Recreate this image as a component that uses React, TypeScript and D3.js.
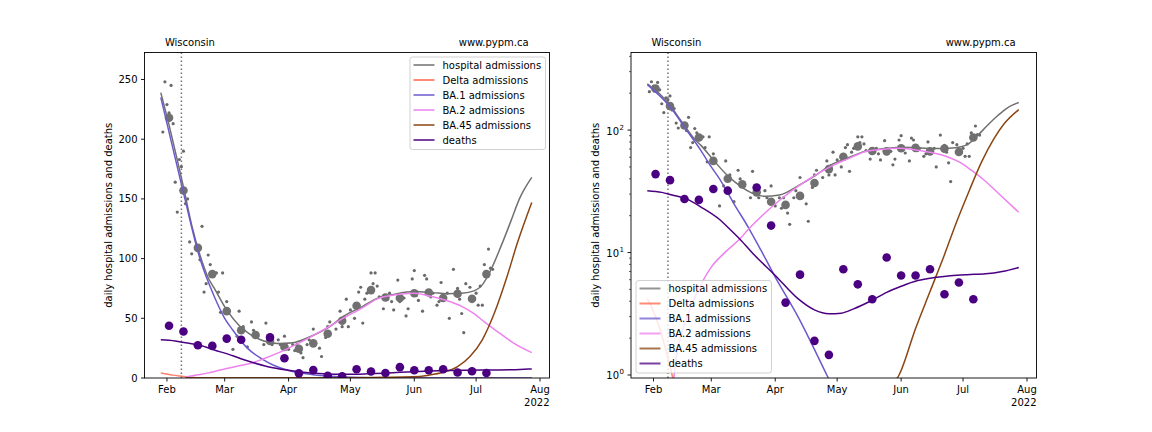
import React from "react";
import * as d3 from "d3";

// ---- data (days since 2022-02-01) ----
const dailyDay = [-2, -1, 0, 1, 2, 3, 4, 5, 6, 7, 8, 9, 10, 11, 12, 14, 16, 17, 18, 19, 20, 21, 23, 24, 25, 26, 27, 29, 30, 32, 34, 35, 37, 39, 41, 42, 44, 47, 48, 49, 51, 54, 55, 57, 59, 61, 62, 63, 65, 66, 68, 69, 71, 72, 74, 75, 77, 78, 79, 82, 84, 85, 86, 87, 88, 89, 91, 93, 94, 95, 96, 97, 99, 100, 101, 102, 103, 105, 107, 108, 109, 110, 112, 113, 115, 116, 117, 119, 120, 121, 122, 124, 125, 126, 127, 128, 129, 131, 132, 133, 135, 136, 137, 139, 140, 141, 142, 143, 144, 145, 147, 149, 150, 151, 152, 153, 154, 155, 156, 157, 158];
const dailyAdm = [206, 248, 229, 222, 245, 213, 164, 139, 183, 177, 190, 146, 150, 114, 104, 110, 99, 127, 72, 79, 103, 95, 88, 88, 72, 55, 88, 64, 57, 24, 35, 56, 43, 26, 47, 40, 35, 28, 46, 35, 28, 32, 28, 35, 24, 28, 23, 28, 21, 17, 28, 32, 41, 28, 25, 18, 34, 43, 47, 41, 56, 43, 51, 66, 43, 57, 50, 72, 76, 46, 66, 71, 88, 79, 88, 77, 68, 58, 66, 71, 64, 57, 82, 64, 67, 52, 58, 83, 90, 69, 65, 56, 86, 83, 72, 68, 71, 61, 64, 80, 66, 71, 50, 91, 71, 75, 66, 54, 38, 79, 76, 66, 71, 61, 77, 61, 95, 88, 108, 92, 91];

const weekDay = [1, 8, 15, 22, 29, 36, 43, 50, 57, 64, 71, 78, 85, 92, 99, 106, 113, 120, 127, 134, 141, 148, 155];
const weekAdm = [218, 157, 109, 87, 56, 40, 36, 31, 26, 24.5, 29, 37, 48, 60.5, 73.6, 67.4, 67, 71, 71.6, 67, 70.5, 66.3, 87];

const deathDay = [1, 8, 15, 22, 29, 36, 50, 57, 64, 71, 78, 85, 92, 99, 106, 113, 120, 127, 134, 141, 148, 155];
const deathVal = [43.7, 39, 27.4, 26.9, 33, 32, 34, 16.6, 3.9, 6.6, 1.9, 1.46, 7.3, 5.5, 4.16, 9.1, 6.5, 6.5, 7.3, 4.56, 5.7, 4.16];

const hospDay = [-3, 1, 4, 8, 12, 16, 20, 23, 29, 35, 40, 47, 54, 61, 70, 78, 86, 95, 102, 110, 120, 129, 136, 143, 149, 153, 157, 162, 167, 171, 177];
const hospCurve = [239, 212, 190, 160, 128, 103, 84, 75, 57, 44, 37, 31, 28.8, 29.5, 35, 42, 52, 60, 66.7, 70, 72.4, 71.5, 70.6, 71, 73, 78, 90, 110, 132, 150, 168];

const deltaDay = [-3, 0, 3, 6, 9, 12, 15, 20, 30, 60, 120, 177];
const deltaCurve = [4.2, 3.3, 2.4, 1.6, 1.0, 0.55, 0.3, 0.12, 0.03, 0.003, 0.0003, 0.0001];

const ba1Day = [-3, 8, 16, 23, 28, 32, 39, 46, 52, 59, 70, 84, 94, 105, 120, 140, 160, 177];
const ba1Curve = [235, 155, 100, 68, 50, 40, 25, 16, 10.5, 6.3, 3.0, 1.0, 0.45, 0.2, 0.07, 0.02, 0.006, 0.002];

const ba2Day = [9, 10, 13, 16, 20, 24, 28, 34, 42, 46, 54, 62, 70, 78, 86, 95, 102, 110, 120, 129, 136, 143, 149, 154, 160, 168, 177];
const ba2Curve = [0.6, 1.0, 2.0, 2.9, 4.3, 5.9, 7.6, 9.8, 13, 15.5, 21, 27.5, 34.7, 42.5, 50.5, 59, 66.3, 69.5, 71, 68, 64.7, 60, 53.9, 47, 39.3, 29.5, 21.3];

const ba45Day = [9, 40, 70, 90, 105, 119, 127, 134, 141, 147, 153, 159, 165, 170, 177];
const ba45Curve = [0.0005, 0.02, 0.1, 0.3, 0.6, 1.0, 2.4, 4.8, 9.6, 18, 32, 55, 85, 113, 147];

const deathCurveDay = [-3, 4, 9, 16, 23, 32, 37, 42, 49, 59, 70, 78, 85, 91, 97, 105, 113, 120, 128, 136, 144, 152, 161, 169, 177];
const deathCurve = [32, 31, 29.5, 27.4, 23.5, 18.6, 15.5, 12.8, 9.5, 6.5, 4.2, 3.4, 3.16, 3.2, 3.47, 4.0, 4.73, 5.3, 5.9, 6.25, 6.47, 6.6, 6.7, 7.0, 7.55];

const linearTicks = [0, 50, 100, 150, 200, 250];
const logTicks = [1, 10, 100];
const monthTicks = [1, 2, 3, 4, 5, 6, 7];
const markerDay = 7;

const seriesNames = ["hospital admissions", "Delta admissions", "BA.1 admissions", "BA.2 admissions", "BA.45 admissions", "deaths"];
const seriesColors = ["#707070", "#ff6347", "#6a5acd", "#ee82ee", "#8b4513", "#4b0082"];
const seriesDays = [hospDay, deltaDay, ba1Day, ba2Day, ba45Day, deathCurveDay];
const seriesVals = [hospCurve, deltaCurve, ba1Curve, ba2Curve, ba45Curve, deathCurve];

const base = Date.UTC(2022, 1, 1);
const toDate = (d: number) => new Date(base + d * 86400000);
const FONT = "DejaVu Sans, sans-serif";

function Panel({ x0, x1, log, legendX, legendY, id }: any) {
  const y0 = 52.5, y1 = 378;
  const x = d3.scaleUtc().domain([toDate(-10.9), toDate(185.6)]).range([x0, x1]);
  const y = log
    ? d3.scaleLog().domain([0.945, 430]).range([y1, y0])
    : d3.scaleLinear().domain([0, 272.6]).range([y1, y0]);
  const line = (days: number[], vals: number[]) =>
    d3.line<number>()
      .defined((_, i) => !log || vals[i] > 0)
      .x((_, i) => x(toDate(days[i])))
      .y((_, i) => {
        const v = log ? Math.max(vals[i], 1e-4) : vals[i];
        return y(v);
      })
      .curve(d3.curveMonotoneX)(vals.map((_, i) => i)) as string;

  const minor: number[] = [];
  if (log) {
    for (const p of [0.1, 1, 10, 100]) for (let k = 2; k <= 9; k++) {
      const v = k * p;
      if (v >= 0.945 && v <= 430) minor.push(v);
    }
  }
  const clip = `clip-${id}`;
  return (
    <g fontFamily={FONT} fontSize={10}>
      <defs>
        <clipPath id={clip}>
          <rect x={x0} y={y0} width={x1 - x0} height={y1 - y0} />
        </clipPath>
      </defs>
      <g clipPath={`url(#${clip})`}>
        <line x1={x(toDate(markerDay))} x2={x(toDate(markerDay))} y1={y0} y2={y1}
          stroke="#707070" strokeWidth={1.5} strokeDasharray="1.5,2.5" />
        {dailyDay.map((d, i) => (
          <circle key={"s" + i} cx={x(toDate(d))} cy={y(dailyAdm[i])} r={1.6} fill="#696969" />
        ))}
        {weekDay.map((d, i) => (
          <circle key={"w" + i} cx={x(toDate(d))} cy={y(weekAdm[i])} r={4.3} fill="#707070" />
        ))}
        {seriesNames.map((n, i) => (
          <path key={n} d={line(seriesDays[i], seriesVals[i])} fill="none"
            stroke={seriesColors[i]} strokeWidth={1.5}
            strokeOpacity={i === 1 ? 0.8 : 1} />
        ))}
        {deathDay.map((d, i) => (
          <circle key={"d" + i} cx={x(toDate(d))} cy={y(deathVal[i])} r={4.3} fill="#4b0082" />
        ))}
      </g>
      <rect x={x0} y={y0} width={x1 - x0} height={y1 - y0} fill="none" stroke="#000" strokeWidth={0.9} />
      {monthTicks.map((m) => {
        const px = x(new Date(Date.UTC(2022, m, 1)));
        return (
          <g key={m}>
            <line x1={px} x2={px} y1={y1} y2={y1 + 3.5} stroke="#000" strokeWidth={0.9} />
            <text x={px} y={y1 + 15} textAnchor="middle" fill="#000">
              {d3.utcFormat("%b")(new Date(Date.UTC(2022, m, 1)))}
            </text>
          </g>
        );
      })}
      <text x={x1} y={y1 + 28} textAnchor="end" fill="#000">2022</text>
      {!log && linearTicks.map((t) => (
        <g key={t}>
          <line x1={x0 - 3.5} x2={x0} y1={y(t)} y2={y(t)} stroke="#000" strokeWidth={0.9} />
          <text x={x0 - 7} y={y(t) + 3.6} textAnchor="end" fill="#000">{t}</text>
        </g>
      ))}
      {log && logTicks.map((t, i) => (
        <g key={t}>
          <line x1={x0 - 3.5} x2={x0} y1={y(t)} y2={y(t)} stroke="#000" strokeWidth={0.9} />
          <text x={x0 - 12} y={y(t) + 4.5} textAnchor="end" fill="#000">10</text>
          <text x={x0 - 7} y={y(t) - 0.5} textAnchor="end" fill="#000" fontSize={7}>{i}</text>
        </g>
      ))}
      {log && minor.map((t) => (
        <line key={"m" + t} x1={x0 - 2} x2={x0} y1={y(t)} y2={y(t)} stroke="#000" strokeWidth={0.6} />
      ))}
      <text transform={`translate(${log ? x0 - 32.5 : x0 - 32.5},${(y0 + y1) / 2}) rotate(-90)`}
        textAnchor="middle" fill="#000">daily hospital admissions and deaths</text>
      <text x={x(toDate(-1))} y={46} fill="#000">Wisconsin</text>
      <text x={x(toDate(175.5))} y={46} textAnchor="end" fill="#000">www.pypm.ca</text>
      <g>
        <rect x={legendX} y={legendY} width={135.5} height={92.5} rx={2.5}
          fill="#fff" fillOpacity={0.8} stroke="#cccccc" strokeWidth={0.9} />
        {seriesNames.map((n, i) => (
          <g key={n}>
            <line x1={legendX + 3.5} x2={legendX + 24.5} y1={legendY + 8 + 15 * i} y2={legendY + 8 + 15 * i}
              stroke={seriesColors[i]} strokeWidth={2} strokeOpacity={0.75} />
            <text x={legendX + 32.5} y={legendY + 11.6 + 15 * i} fill="#000">{n}</text>
          </g>
        ))}
      </g>
    </g>
  );
}

export default function App() {
  return (
    <svg width={1152} height={432} style={{ display: "block", position: "absolute", left: 0, top: 0 }}>
      <rect width={1152} height={432} fill="#fff" />
      <Panel id="lin" x0={144.5} x1={549.5} log={false} legendX={410} legendY={57} />
      <Panel id="log" x0={631} x1={1036.5} log={true} legendX={636} legendY={280.5} />
    </svg>
  );
}
